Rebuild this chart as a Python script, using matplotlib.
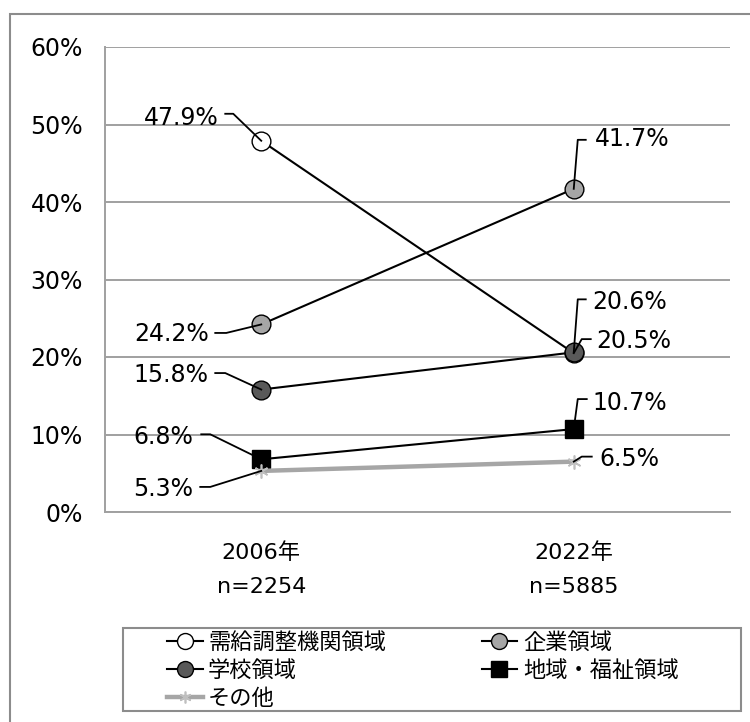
import matplotlib
matplotlib.use('Agg')
import matplotlib.pyplot as plt
from matplotlib.patches import Rectangle
from matplotlib.lines import Line2D
from matplotlib.transforms import IdentityTransform

plt.rcParams['font.family'] = ['DejaVu Sans', 'Noto Sans CJK JP']

# データ
years = ['2006年', '2022年']
n_labels = ['n=2254', 'n=5885']
series_names = ['需給調整機関領域', '企業領域', '学校領域', '地域・福祉領域', 'その他']
v_jukyu = [47.9, 20.5]
v_kigyo = [24.2, 41.7]
v_gakko = [15.8, 20.6]
v_chiiki = [6.8, 10.7]
v_sonota = [5.3, 6.5]
yticks = [0, 10, 20, 30, 40, 50, 60]

# 見た目
styles = [
    dict(color='black', lw=1.5, marker='o', ms=13.5, mfc='white', mec='black', mew=1.0),
    dict(color='black', lw=1.5, marker='o', ms=13.5, mfc='#A6A6A6', mec='black', mew=1.0),
    dict(color='black', lw=1.5, marker='o', ms=13.5, mfc='#595959', mec='black', mew=1.0),
    dict(color='black', lw=1.5, marker='s', ms=13.5, mfc='black', mec='black', mew=1.0),
    dict(color='#A6A6A6', lw=3.2, marker=(6, 2, 0), ms=10, mfc='#BFBFBF', mec='#BFBFBF', mew=1.2),
]
# ラベル位置 (ピクセル: 引出線の折れ点2つ, 文字位置, 揃え) 画像座標で下向きが正
label_pos = [
    [((-36, -27), (-28, -27), (-43, -23), 'right'), ((8, -14), (17, -14), (23, -12), 'left')],
    [((-46, 8.5), (-35, 8.5), (-52, 10), 'right'), ((4, -49), (12, -49), (21, -50), 'left')],
    [((-46, -16.5), (-36, -16.5), (-53, -14.5), 'right'), ((4, -53), (12, -53), (18, -50), 'left')],
    [((-60, -25), (-51, -25), (-68, -22), 'right'), ((4, -30), (13, -30), (19, -26), 'left')],
    [((-61, 16), (-51, 16), (-68, 18), 'right'), ((8, -5), (18, -5), (26, -3), 'left')],
]

values = [v_jukyu, v_kigyo, v_gakko, v_chiiki, v_sonota]

fig = plt.figure(figsize=(7.5, 7.22), dpi=100)
ax = fig.add_axes([105 / 750, 1 - 512 / 722, 625 / 750, 465 / 722])

x = list(range(len(years)))
handles = []
for name, vals, st, z in zip(series_names, values, styles, [3, 3, 3, 3, 4]):
    h, = ax.plot(x, vals, label=name, zorder=z, **st)
    handles.append(h)

ax.set_xlim(-0.5, 1.5)
ax.set_ylim(0, 60)
ax.set_yticks(yticks)
ax.set_yticklabels([f'{t}%' for t in yticks], fontsize=17)
ax.set_xticks(x)
ax.set_xticklabels([f'{y}\n{n}' for y, n in zip(years, n_labels)], fontsize=16, linespacing=1.85)
ax.tick_params(axis='y', length=0, pad=16)
ax.tick_params(axis='x', length=0, pad=22)
ax.grid(axis='y', color='#A0A0A0', lw=1.4)
ax.set_axisbelow(True)
for s in ['top', 'right']:
    ax.spines[s].set_visible(False)
for s in ['left', 'bottom']:
    ax.spines[s].set_color('#A0A0A0')
    ax.spines[s].set_linewidth(1.4)

# データラベルと引出線
fig.canvas.draw()
for vals, poss in zip(values, label_pos):
    for i, (v, (e1, e2, tp, ha)) in enumerate(zip(vals, poss)):
        px, py = ax.transData.transform((i, v))
        xs = [px, px + e1[0], px + e2[0]]
        ys = [py, py - e1[1], py - e2[1]]
        if ha == 'right':
            xs = [px, px + e2[0], px + e1[0]]
            ys = [py, py - e2[1], py - e1[1]]
        fig.add_artist(Line2D(xs, ys, transform=IdentityTransform(), color='black', lw=1.3, zorder=6))
        ax.annotate(f'{v:.1f}%', xy=(i, v), xytext=(tp[0], -tp[1]), textcoords='offset pixels',
                    ha=ha, va='center', fontsize=17, zorder=6)

# 凡例
order = [0, 2, 4, 1, 3]
leg = fig.legend([handles[k] for k in order], [series_names[k] for k in order],
                 loc='upper left', bbox_to_anchor=(167 / 750, 1 - 631 / 722), ncol=2,
                 frameon=False, borderpad=0, borderaxespad=0, handlelength=1.6,
                 handletextpad=0.25, columnspacing=4.3, labelspacing=0.23, markerscale=0.85,
                 prop={'family': ['Noto Sans CJK JP', 'DejaVu Sans'], 'size': 16})
fig.add_artist(Rectangle((123 / 750, 1 - 711 / 722), 618 / 750, 83 / 722, transform=fig.transFigure,
                         fill=False, ec='#8C8C8C', lw=1.5))

# 外枠
fig.add_artist(Rectangle((10 / 750, -0.1), 1.2, 1.1 - 14 / 722, transform=fig.transFigure,
                         fill=False, ec='#8C8C8C', lw=1.5))

fig.savefig('out.png', dpi=100)
